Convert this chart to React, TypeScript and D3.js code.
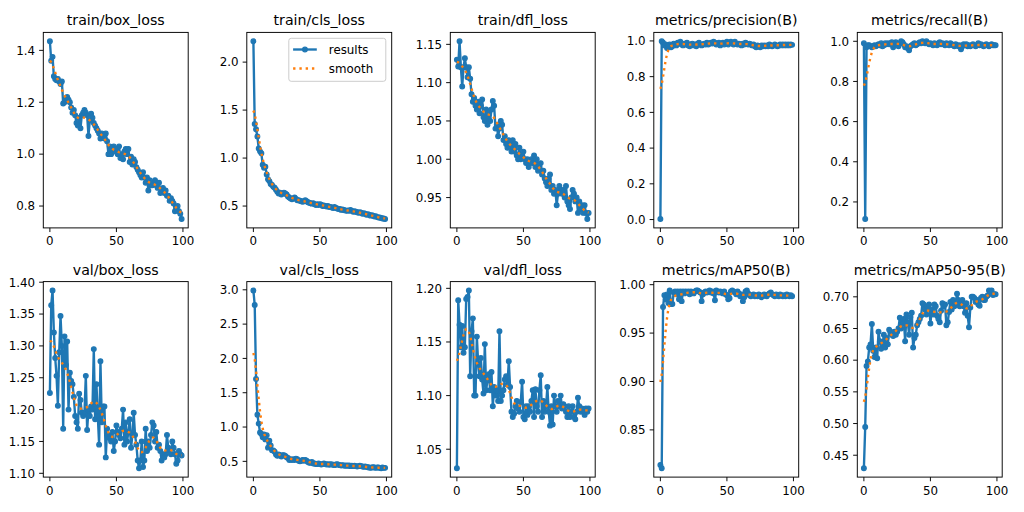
import React from "react";
import * as d3 from "d3";

// ---------- data ----------
const titles = [
  "train/box_loss", "train/cls_loss", "train/dfl_loss", "metrics/precision(B)", "metrics/recall(B)",
  "val/box_loss", "val/cls_loss", "val/dfl_loss", "metrics/mAP50(B)", "metrics/mAP50-95(B)",
];

const trainBoxLoss = [
  1.435, 1.36, 1.375, 1.3, 1.29, 1.285, 1.29, 1.28, 1.27, 1.28,
  1.195, 1.2, 1.21, 1.22, 1.21, 1.2, 1.18, 1.16, 1.17, 1.15,
  1.12, 1.11, 1.14, 1.1, 1.15, 1.16, 1.17, 1.16, 1.15, 1.07,
  1.13, 1.156, 1.14, 1.12, 1.11, 1.1, 1.09, 1.08, 1.06, 1.08,
  1.07, 1.06, 1.08, 1.05, 1.0, 1.03, 1.0, 1.02, 1.03, 1.01,
  1.02, 1.0, 1.03, 0.985, 1.0, 0.98, 1.01, 1.02, 1.0, 1.02,
  0.97, 0.99, 0.96, 0.98, 0.97, 0.95, 0.94, 0.93, 0.92, 0.91,
  0.93, 0.91, 0.89, 0.91, 0.86, 0.9, 0.88, 0.88, 0.89, 0.9,
  0.88, 0.87, 0.89, 0.85, 0.86, 0.87, 0.85, 0.86, 0.84, 0.84,
  0.82, 0.83, 0.82, 0.81, 0.78, 0.79, 0.8, 0.78, 0.77, 0.75,
];

const trainClsLoss = [
  2.217, 1.355, 1.3, 1.224, 1.1, 1.07, 1.05, 0.93, 0.9, 0.91,
  0.83, 0.78, 0.76, 0.73, 0.72, 0.7, 0.69, 0.67, 0.65, 0.63,
  0.64, 0.62, 0.63, 0.64, 0.63, 0.62, 0.6, 0.59, 0.58, 0.57,
  0.58, 0.59, 0.575, 0.56, 0.56, 0.555, 0.55, 0.545, 0.55, 0.56,
  0.55, 0.54, 0.535, 0.53, 0.525, 0.53, 0.52, 0.51, 0.52, 0.51,
  0.52, 0.515, 0.5, 0.505, 0.5, 0.495, 0.5, 0.49, 0.49, 0.485,
  0.48, 0.49, 0.48, 0.475, 0.47, 0.47, 0.46, 0.465, 0.46, 0.455,
  0.45, 0.455, 0.45, 0.46, 0.45, 0.44, 0.445, 0.44, 0.435, 0.43,
  0.435, 0.43, 0.42, 0.425, 0.42, 0.41, 0.415, 0.41, 0.4, 0.405,
  0.4, 0.39, 0.395, 0.385, 0.38, 0.38, 0.375, 0.37, 0.37, 0.365,
];

const trainDflLoss = [
  1.13, 1.121, 1.154, 1.12, 1.095, 1.12, 1.132, 1.12, 1.107, 1.12,
  1.105, 1.085, 1.075, 1.08, 1.07, 1.065, 1.075, 1.06, 1.07, 1.078,
  1.055, 1.05, 1.065, 1.045, 1.06, 1.05, 1.065, 1.076, 1.07, 1.04,
  1.045, 1.03, 1.04, 1.05, 1.045, 1.025, 1.03, 1.02, 1.015, 1.025,
  1.02, 1.01, 1.025, 1.01, 1.02, 1.005, 1.0, 1.015, 1.0, 1.005,
  1.01, 1.0, 0.995, 1.0, 0.99, 0.995, 1.0, 0.995, 1.005, 0.99,
  1.0, 0.985, 0.99, 0.995, 0.98, 0.985, 0.975, 0.97, 0.965, 0.975,
  0.98, 0.96, 0.965, 0.955, 0.96, 0.94, 0.955, 0.965, 0.96, 0.955,
  0.96, 0.95, 0.965, 0.945, 0.94, 0.935, 0.95, 0.96, 0.955, 0.945,
  0.95, 0.93, 0.945, 0.935, 0.94, 0.93, 0.94, 0.93, 0.922, 0.93,
];

const precision = [
  0.003, 0.998, 0.99, 0.975, 0.98, 0.96, 0.975, 0.98, 0.965, 0.97,
  0.985, 0.98, 0.975, 0.99, 0.985, 0.995, 0.98, 0.975, 0.985, 0.98,
  0.99, 0.975, 0.97, 0.98, 0.985, 0.975, 0.98, 0.97, 0.985, 0.99,
  0.98, 0.975, 0.98, 0.985, 0.98, 0.99, 0.98, 0.985, 0.99, 0.985,
  0.995, 0.99, 0.98, 0.985, 0.99, 0.975, 0.985, 0.99, 0.98, 0.985,
  0.995, 0.98, 0.99, 0.995, 0.985, 0.98, 0.995, 0.985, 0.98, 0.985,
  0.98, 0.975, 0.985, 0.98, 0.99, 0.985, 0.98, 0.985, 0.98, 0.975,
  0.98, 0.97, 0.965, 0.975, 0.97, 0.965, 0.975, 0.97, 0.975, 0.97,
  0.975, 0.97, 0.98, 0.975, 0.97, 0.975, 0.98, 0.975, 0.97, 0.975,
  0.98, 0.975, 0.98, 0.975, 0.98, 0.975, 0.98, 0.975, 0.98, 0.978,
];

const recall = [
  0.99, 0.115, 0.97, 0.98, 0.98, 0.975, 0.97, 0.975, 0.98, 0.975,
  0.98, 0.985, 0.98, 0.99, 0.975, 0.98, 0.99, 0.985, 0.99, 0.985,
  0.99, 0.995, 0.97, 0.99, 0.995, 0.985, 0.975, 0.99, 1.0, 0.995,
  0.985, 0.97, 0.975, 0.965, 0.955, 0.975, 0.98, 0.985, 0.99, 0.98,
  0.985, 0.99, 0.995, 0.99, 1.0, 0.995, 0.99, 1.0, 0.99, 0.985,
  0.99, 0.985, 0.98, 0.99, 0.985, 0.98, 0.99, 0.995, 0.985, 0.99,
  0.985, 0.98, 0.99, 0.985, 0.98, 0.99, 0.985, 0.98, 0.975, 0.985,
  0.98, 0.975, 0.98, 0.96, 0.975, 0.985, 0.98, 0.985, 0.975, 0.98,
  0.975, 0.98, 0.985, 0.98, 0.975, 0.98, 0.99, 0.98, 0.985, 0.98,
  0.975, 0.98, 0.985, 0.98, 0.975, 0.98, 0.985, 0.98, 0.98, 0.98,
];

const valBoxLoss = [
  1.226, 1.364, 1.387, 1.321, 1.281, 1.253, 1.206, 1.29, 1.347, 1.3,
  1.17, 1.315, 1.27, 1.307, 1.2, 1.258, 1.245, 1.24, 1.22, 1.19,
  1.18, 1.17, 1.225, 1.215, 1.195, 1.19, 1.195, 1.253, 1.168, 1.2,
  1.19, 1.205, 1.2, 1.295, 1.185, 1.24, 1.19, 1.145, 1.276, 1.18,
  1.205, 1.205, 1.125, 1.17, 1.16, 1.155, 1.15, 1.165, 1.135, 1.15,
  1.175, 1.165, 1.16, 1.155, 1.17, 1.2, 1.145, 1.18, 1.15, 1.165,
  1.185, 1.14, 1.16, 1.195, 1.16, 1.145, 1.12, 1.108, 1.12, 1.15,
  1.11, 1.12, 1.17, 1.135, 1.15, 1.14, 1.16, 1.18, 1.175, 1.15,
  1.165, 1.14, 1.145, 1.135, 1.12, 1.13, 1.125, 1.13, 1.16, 1.14,
  1.135, 1.13, 1.15, 1.14, 1.13, 1.115, 1.12, 1.135, 1.13, 1.128,
];

const valClsLoss = [
  2.99, 2.78, 1.7, 1.18, 1.05, 0.92, 0.9, 0.85, 0.89, 0.82,
  0.88, 0.7, 0.8, 0.73, 0.66, 0.66, 0.64, 0.6, 0.58, 0.6,
  0.59, 0.57, 0.59, 0.59, 0.58, 0.56, 0.55, 0.52, 0.53, 0.52,
  0.53, 0.52, 0.54, 0.53, 0.51, 0.5, 0.51, 0.52, 0.51, 0.52,
  0.51, 0.49, 0.48, 0.48, 0.49, 0.47, 0.47, 0.46, 0.46, 0.47,
  0.46, 0.455, 0.46, 0.47, 0.46, 0.455, 0.46, 0.45, 0.46, 0.455,
  0.45, 0.445, 0.455, 0.46, 0.45, 0.445, 0.44, 0.445, 0.44, 0.435,
  0.44, 0.435, 0.44, 0.43, 0.435, 0.43, 0.435, 0.43, 0.425, 0.43,
  0.435, 0.43, 0.425, 0.42, 0.425, 0.42, 0.415, 0.41, 0.405, 0.41,
  0.415, 0.41, 0.405, 0.41, 0.41, 0.405, 0.4, 0.41, 0.405, 0.405,
];

const valDflLoss = [
  1.0323, 1.189, 1.166, 1.145, 1.165, 1.14, 1.145, 1.19, 1.192, 1.198,
  1.118, 1.16, 1.172, 1.1, 1.1, 1.155, 1.13, 1.118, 1.135, 1.115,
  1.102, 1.148, 1.105, 1.115, 1.12, 1.105, 1.122, 1.09, 1.108, 1.1,
  1.105, 1.095, 1.16, 1.095, 1.1, 1.105, 1.115, 1.118, 1.11, 1.132,
  1.108, 1.085, 1.08, 1.083, 1.09, 1.095, 1.088, 1.085, 1.094, 1.113,
  1.08, 1.078, 1.09, 1.082, 1.09, 1.085, 1.095, 1.105, 1.08, 1.106,
  1.09, 1.085, 1.105, 1.119, 1.08, 1.095, 1.085, 1.09, 1.108, 1.085,
  1.072, 1.09, 1.073, 1.1, 1.09, 1.085, 1.095, 1.09, 1.1, 1.088,
  1.092, 1.09, 1.085, 1.08, 1.09, 1.08, 1.085, 1.09, 1.08, 1.078,
  1.085, 1.098, 1.09, 1.085, 1.088, 1.085, 1.082, 1.088, 1.085, 1.088,
];

const mAP50 = [
  0.8138, 0.8104, 0.977, 0.989, 0.985, 0.99, 0.981, 0.994, 0.98, 0.98,
  0.992, 0.993, 0.99, 0.993, 0.985, 0.993, 0.983, 0.993, 0.991, 0.993,
  0.992, 0.993, 0.99, 0.993, 0.992, 0.991, 0.993, 0.994, 0.994, 0.993,
  0.992, 0.983, 0.99, 0.992, 0.993, 0.992, 0.993, 0.994, 0.992, 0.993,
  0.991, 0.984, 0.994, 0.993, 0.992, 0.993, 0.992, 0.991, 0.993, 0.99,
  0.989, 0.985, 0.986, 0.993, 0.994, 0.993, 0.992, 0.99, 0.993, 0.991,
  0.988, 0.99, 0.983, 0.987, 0.993, 0.994, 0.991, 0.989, 0.988, 0.989,
  0.99, 0.988, 0.989, 0.988, 0.99, 0.989, 0.987, 0.988, 0.99, 0.989,
  0.988, 0.99, 0.991, 0.992, 0.99, 0.989, 0.988, 0.99, 0.989, 0.988,
  0.99, 0.989, 0.988, 0.989, 0.988, 0.99, 0.989, 0.988, 0.989, 0.988,
];

const mAP5095 = [
  0.4295, 0.4946, 0.591, 0.598, 0.62, 0.625, 0.657, 0.615, 0.605, 0.62,
  0.603, 0.645, 0.63, 0.618, 0.625, 0.64, 0.62, 0.635, 0.625, 0.648,
  0.645, 0.64, 0.638, 0.645, 0.64, 0.645, 0.65, 0.667, 0.65, 0.66,
  0.665, 0.63, 0.672, 0.66, 0.64, 0.668, 0.675, 0.62, 0.635, 0.64,
  0.655, 0.66, 0.665, 0.67, 0.69, 0.688, 0.68, 0.672, 0.685, 0.688,
  0.658, 0.68, 0.672, 0.688, 0.685, 0.67, 0.665, 0.66, 0.678, 0.69,
  0.685, 0.688, 0.655, 0.66, 0.676, 0.692, 0.68, 0.695, 0.685, 0.69,
  0.705, 0.695, 0.685, 0.69, 0.695, 0.685, 0.675, 0.69, 0.67, 0.652,
  0.683, 0.7, 0.7, 0.698, 0.692, 0.695, 0.688, 0.686, 0.698, 0.7,
  0.695, 0.695, 0.7, 0.702, 0.71, 0.705, 0.71, 0.703, 0.704, 0.704,
];

const series = [
  trainBoxLoss, trainClsLoss, trainDflLoss, precision, recall,
  valBoxLoss, valClsLoss, valDflLoss, mAP50, mAP5095,
];

const yTickLabels = [
  ["0.8", "1.0", "1.2", "1.4"],
  ["0.5", "1.0", "1.5", "2.0"],
  ["0.95", "1.00", "1.05", "1.10", "1.15"],
  ["0.0", "0.2", "0.4", "0.6", "0.8", "1.0"],
  ["0.2", "0.4", "0.6", "0.8", "1.0"],
  ["1.10", "1.15", "1.20", "1.25", "1.30", "1.35", "1.40"],
  ["0.5", "1.0", "1.5", "2.0", "2.5", "3.0"],
  ["1.05", "1.10", "1.15", "1.20"],
  ["0.85", "0.90", "0.95", "1.00"],
  ["0.45", "0.50", "0.55", "0.60", "0.65", "0.70"],
];

const xTickLabels = ["0", "50", "100"];
const legendLabels = ["results", "smooth"];

// ---------- layout / style ----------
const W = 1024;
const H = 512;
const AX_W = 144.9;
const AX_H = 195.5;
const COL_LEFT0 = 43.3;
const COL_STEP = 203.5;
const ROW_TOPS = [32.4, 281.6];
const C0 = "#1f77b4";
const C1 = "#ff7f0e";
const FONT = "'DejaVu Sans', sans-serif";
const TICK_FS = 11.85;
const TITLE_FS = 14.2;
const LW = 2.37;
const TICK_LEN = 4.15;
const TICK_PAD = 4.15;

// Gaussian smoothing (sigma = 3, reflect mode), as used for the "smooth" curve
function gaussianSmooth(y: number[], sigma = 3): number[] {
  const r = Math.floor(4 * sigma + 0.5);
  const w: number[] = [];
  for (let k = -r; k <= r; k++) w.push(Math.exp((-0.5 * k * k) / (sigma * sigma)));
  const s = d3.sum(w);
  const n = y.length;
  const idx = (i: number): number => {
    while (i < 0 || i >= n) {
      if (i < 0) i = -i - 1;
      if (i >= n) i = 2 * n - i - 1;
    }
    return i;
  };
  return y.map((_, i) => {
    let acc = 0;
    for (let k = -r; k <= r; k++) acc += w[k + r] * y[idx(i + k)];
    return acc / s;
  });
}

function Panel({ index }: { index: number }) {
  const data = series[index];
  const col = index % 5;
  const row = Math.floor(index / 5);
  const left = COL_LEFT0 + col * COL_STEP;
  const top = ROW_TOPS[row];
  const xs = data.map((_, i) => i);
  const xMin = 0;
  const xMax = xs.length - 1;
  const xm = (xMax - xMin) * 0.05;
  const x = d3.scaleLinear().domain([xMin - xm, xMax + xm]).range([left, left + AX_W]);
  const yMin = d3.min(data) as number;
  const yMax = d3.max(data) as number;
  const ym = (yMax - yMin) * 0.05;
  const y = d3.scaleLinear().domain([yMin - ym, yMax + ym]).range([top + AX_H, top]);
  const smooth = gaussianSmooth(data, 3);
  const line = d3
    .line<number>()
    .x((_, i) => x(i))
    .y((d) => y(d));
  const bottom = top + AX_H;

  return (
    <g>
      <text
        x={left + AX_W / 2}
        y={top - 7.1}
        fontSize={TITLE_FS}
        textAnchor="middle"
        fontFamily={FONT}
        fill="#000"
      >
        {titles[index]}
      </text>
      <path d={line(data) || ""} fill="none" stroke={C0} strokeWidth={LW} strokeLinejoin="round" strokeLinecap="round" />
      {data.map((d, i) => (
        <circle key={i} cx={x(i)} cy={y(d)} r={2.37} fill={C0} stroke={C0} strokeWidth={1.19} />
      ))}
      <path
        d={line(smooth) || ""}
        fill="none"
        stroke={C1}
        strokeWidth={LW}
        strokeDasharray="2.37 3.91"
      />
      <rect x={left} y={top} width={AX_W} height={AX_H} fill="none" stroke="#000" strokeWidth={0.95} />
      {xTickLabels.map((t) => {
        const px = x(+t);
        return (
          <g key={t}>
            <line x1={px} x2={px} y1={bottom} y2={bottom + TICK_LEN} stroke="#000" strokeWidth={0.95} />
            <text
              x={px}
              y={bottom + TICK_LEN + TICK_PAD + 9.1}
              fontSize={TICK_FS}
              textAnchor="middle"
              fontFamily={FONT}
              fill="#000"
            >
              {t}
            </text>
          </g>
        );
      })}
      {yTickLabels[index].map((t) => {
        const py = y(+t);
        return (
          <g key={t}>
            <line x1={left - TICK_LEN} x2={left} y1={py} y2={py} stroke="#000" strokeWidth={0.95} />
            <text
              x={left - TICK_LEN - TICK_PAD}
              y={py + 4.3}
              fontSize={TICK_FS}
              textAnchor="end"
              fontFamily={FONT}
              fill="#000"
            >
              {t}
            </text>
          </g>
        );
      })}
    </g>
  );
}

function Legend() {
  // legend lives in panel 2 (train/cls_loss), upper right
  const axRight = COL_LEFT0 + COL_STEP + AX_W;
  const bx = axRight - 5.9 - 97;
  const by = ROW_TOPS[0] + 5.9;
  const rows = [by + 11.2, by + 30.2];
  const hx0 = bx + 4.3;
  const hx1 = hx0 + 23.7;
  return (
    <g>
      <rect x={bx} y={by} width={97} height={43} rx={2.4} fill="#fff" fillOpacity={0.8} stroke="#cccccc" strokeWidth={1} />
      <line x1={hx0} x2={hx1} y1={rows[0]} y2={rows[0]} stroke={C0} strokeWidth={LW} />
      <circle cx={(hx0 + hx1) / 2} cy={rows[0]} r={2.37} fill={C0} stroke={C0} strokeWidth={1.19} />
      <line x1={hx0} x2={hx1} y1={rows[1]} y2={rows[1]} stroke={C1} strokeWidth={LW} strokeDasharray="2.37 3.91" />
      {legendLabels.map((l, i) => (
        <text key={l} x={hx1 + 12} y={rows[i] + 4.3} fontSize={TICK_FS} fontFamily={FONT} fill="#000">
          {l}
        </text>
      ))}
    </g>
  );
}

export default function App() {
  return (
    <svg
      width={W}
      height={H}
      viewBox={`0 0 ${W} ${H}`}
      style={{ position: "absolute", left: 0, top: 0, background: "#fff" }}
    >
      <rect x={0} y={0} width={W} height={H} fill="#fff" />
      {series.map((_, i) => (
        <Panel key={i} index={i} />
      ))}
      <Legend />
    </svg>
  );
}
